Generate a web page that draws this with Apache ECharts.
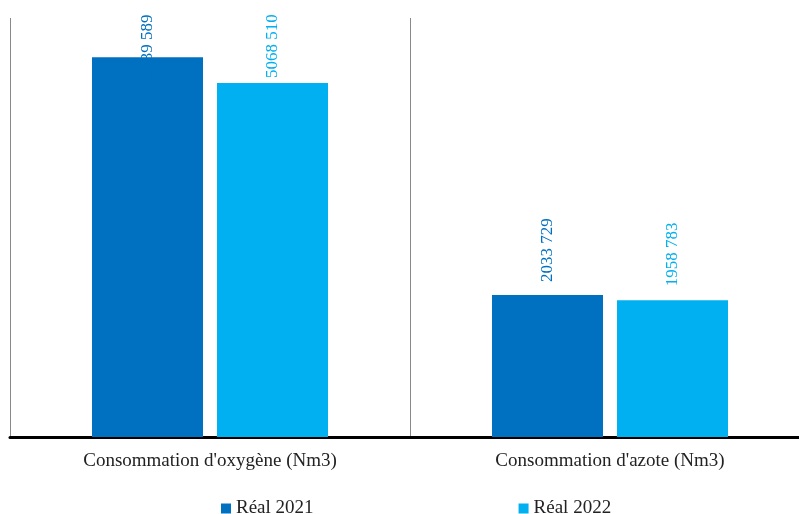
<!DOCTYPE html>
<html><head><meta charset="utf-8">
<script src="https://cdn.jsdelivr.net/npm/echarts@6/dist/echarts.min.js"></script>
<style>html,body{margin:0;padding:0;background:#fff;overflow:hidden}#c{width:820px;height:514px}</style>
</head><body><div id="c"></div>
<script>
const categories = ["Consommation d'oxygène (Nm3)", "Consommation d'azote (Nm3)"];
const seriesNames = ["Réal 2021", "Réal 2022"];
const real2021 = [5439589, 2033729];
const real2022 = [5068510, 1958783];
const labelTexts2021 = ["5439 589", "2033 729"];
const labelTexts2022 = ["5068 510", "1958 783"];

const colors = ["#0070C0", "#00B0F0"];
const labelDist2021 = [-21, 13];
const labelDist2022 = [5, 14];
const FONT = "'Liberation Serif', serif";

function mkData(vals, texts, dists) {
  return vals.map((v, i) => ({
    value: v,
    label: { distance: dists[i], formatter: texts[i] }
  }));
}

function mkSeries(name, vals, texts, dists, color) {
  return {
    name: name, type: 'bar',
    barWidth: 111, barGap: '12.6%',
    itemStyle: { color: color },
    label: {
      show: true, position: 'top', rotate: 90,
      align: 'left', verticalAlign: 'middle',
      color: color, fontFamily: FONT, fontSize: 17
    },
    data: mkData(vals, texts, dists)
  };
}

const chart = echarts.init(document.getElementById('c'));
chart.setOption({
  animation: false,
  backgroundColor: '#fff',
  grid: { left: 10, right: 10, top: 18, height: 419, containLabel: false },
  xAxis: {
    type: 'category', data: categories, boundaryGap: true,
    axisLine: { lineStyle: { color: '#000', width: 3 } },
    axisTick: { show: false },
    splitLine: { show: true, interval: 0, lineStyle: { color: '#8a8a8a', width: 1 } },
    axisLabel: { margin: 15, fontFamily: FONT, fontSize: 19, color: '#222', interval: 0 }
  },
  yAxis: { type: 'value', min: 0, max: 6000000, show: false, splitLine: { show: false } },
  legend: {
    data: seriesNames, top: 494, left: 216,
    icon: 'rect', itemWidth: 10, itemHeight: 10, itemGap: 205,
    textStyle: { fontFamily: FONT, fontSize: 19, color: '#222' }
  },
  series: [
    mkSeries(seriesNames[0], real2021, labelTexts2021, labelDist2021, colors[0]),
    mkSeries(seriesNames[1], real2022, labelTexts2022, labelDist2022, colors[1])
  ]
});
</script></body></html>
